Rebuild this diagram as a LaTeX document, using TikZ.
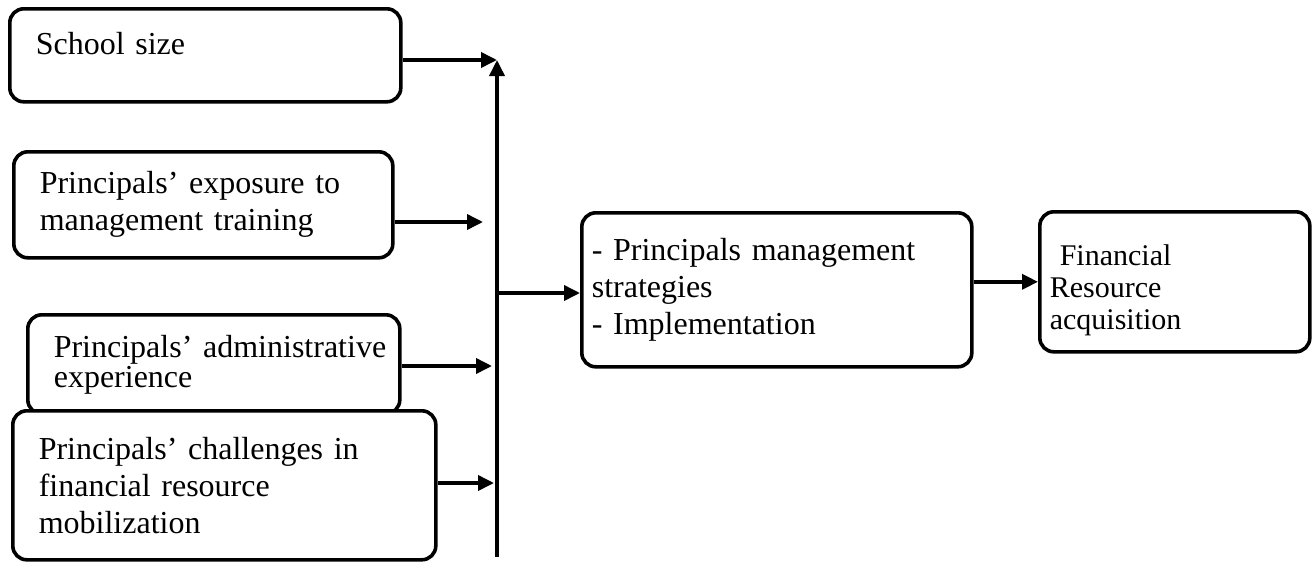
\documentclass[tikz,border=0pt]{standalone}
\usepackage{fontspec}
\setmainfont{Liberation Serif}
\usetikzlibrary{arrows.meta}

\begin{document}
\begin{tikzpicture} [
    line width=1.8pt,
    y=-0.5pt, x=0.5pt,
    every node/.append style={align=left, font=\fontsize{16pt}{18.5pt}\selectfont},
    factor/.style={draw, fill=white, rounded corners=7pt, anchor=north west, inner xsep=13pt, inner ysep=0pt},
    outcome/.style={factor, inner xsep=5pt},
    arr/.style={->, >={Triangle[length=8pt, width=7.5pt]}}
  ]

  \useasboundingbox (0,0) rectangle (1316,562);

  % factors on the left
  \node [factor, text width=169.5pt, minimum height=46.5pt, text depth=11.5pt] (size) at (8,7) {School size};
  \node [factor, text width=163.5pt, minimum height=53pt] (exposure) at (12,150)
    {Principals’ exposure to\\management training};
  \node [factor, text width=160pt, minimum height=49.5pt, font=\fontsize{16pt}{15pt}\selectfont] (experience) at (26,313)
    {\mbox{Principals’ administrative}\\experience};
  \node [factor, text width=185.5pt, minimum height=74.5pt] (challenges) at (11,409)
    {Principals’ challenges in\\financial resource\\mobilization};

  % strategies and outcome
  \node [outcome, text width=185pt, minimum height=77pt] (strategies) at (580,211)
    {- Principals management\\strategies\\- Implementation};
  \node [outcome, text width=125pt, minimum height=70pt, font=\fontsize{15pt}{16pt}\selectfont] (acquisition) at (1038,210)
    {\rule{0pt}{19pt}\ Financial\\Resource\\acquisition};

  % collecting line
  \coordinate (bus top) at (497,60);
  \coordinate (bus bottom) at (497,557);
  \coordinate (in exposure) at (483,222);
  \coordinate (in experience) at (492,366);
  \coordinate (in challenges) at (494,483);
  \coordinate (bus out) at (499,293);

  \draw [arr] (bus bottom) -- (bus top);
  \draw [arr] (size.east |- bus top) -- (bus top);
  \draw [arr] (exposure.east |- in exposure) -- (in exposure);
  \draw [arr] (experience.east |- in experience) -- (in experience);
  \draw [arr] (challenges.east |- in challenges) -- (in challenges);
  \draw [arr] (bus out) -- (strategies.west |- bus out);
  \draw [arr] (strategies.east |- acquisition.west) -- (acquisition.west);
\end{tikzpicture}
\end{document}
